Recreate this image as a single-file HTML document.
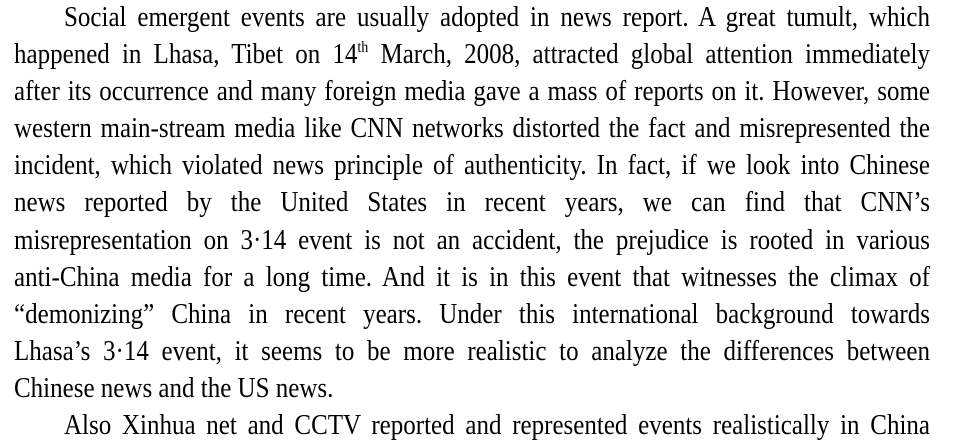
<!DOCTYPE html>
<html>
<head>
<meta charset="utf-8">
<style>
html,body{margin:0;padding:0;background:#fff;}
body{width:963px;height:418px;overflow:hidden;position:relative;}
#para{position:absolute;left:14px;top:0px;width:916px;font-family:"Liberation Serif",serif;font-size:25px;line-height:37.1px;color:#000;}
.l{display:block;height:37.1px;white-space:nowrap;text-align:justify;text-align-last:justify;transform:scaleY(1.12);transform-origin:0 26px;}
.l.first{padding-left:50px;}
.l.last{text-align-last:left;}
sup{font-size:14px;line-height:0;vertical-align:10px;}
</style>
</head>
<body>
<div id="para">
<div class="l first">Social emergent events are usually adopted in news report. A great tumult, which</div>
<div class="l">happened in Lhasa, Tibet on 14<sup>th</sup> March, 2008, attracted global attention immediately</div>
<div class="l">after its occurrence and many foreign media gave a mass of reports on it. However, some</div>
<div class="l">western main-stream media like CNN networks distorted the fact and misrepresented the</div>
<div class="l">incident, which violated news principle of authenticity. In fact, if we look into Chinese</div>
<div class="l">news reported by the United States in recent years, we can find that CNN’s</div>
<div class="l">misrepresentation on 3·14 event is not an accident, the prejudice is rooted in various</div>
<div class="l">anti-China media for a long time. And it is in this event that witnesses the climax of</div>
<div class="l">“demonizing” China in recent years. Under this international background towards</div>
<div class="l">Lhasa’s 3·14 event, it seems to be more realistic to analyze the differences between</div>
<div class="l last">Chinese news and the US news.</div>
<div class="l first">Also Xinhua net and CCTV reported and represented events realistically in China</div>
</div>
</body>
</html>
